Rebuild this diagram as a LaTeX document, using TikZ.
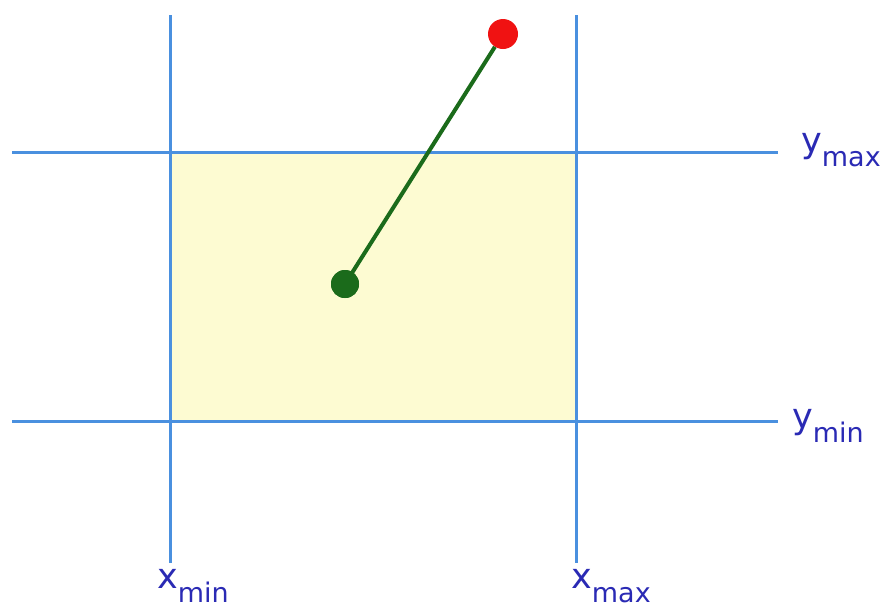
\documentclass[tikz,border=0pt]{standalone}
\usepackage{fontspec}
\setmainfont{DejaVu Sans}
\definecolor{gridblue}{HTML}{4A90DF}
\definecolor{fillyellow}{HTML}{FDFBD2}
\definecolor{dkgreen}{HTML}{1B6B1B}
\definecolor{ptred}{HTML}{F01212}
\definecolor{lblblue}{HTML}{2A2AB4}
\newcommand{\biglbl}[2]{{\fontsize{35}{35}\selectfont #1}\raisebox{-14pt}{\fontsize{27}{27}\selectfont #2}}
\begin{document}
\begin{tikzpicture}[x=1pt,y=-1pt,
  gridline/.style={draw=gridblue,line width=3pt},
  dot/.style={circle,inner sep=0pt,minimum size=#1},
  lbl/.style={anchor=base west,inner sep=0pt,text=lblblue}]
\useasboundingbox (0,0) rectangle (885,611);
\fill[fillyellow] (170,152) rectangle (576,421);
\coordinate (v1t) at (170,15); \coordinate (v1b) at (170,563);
\coordinate (v2t) at (576,15); \coordinate (v2b) at (576,563);
\coordinate (h1l) at (12,152); \coordinate (h1r) at (778,152);
\coordinate (h2l) at (12,421); \coordinate (h2r) at (778,421);
\draw[gridline] (v1t) -- (v1b);
\draw[gridline] (v2t) -- (v2b);
\draw[gridline] (h1l) -- (h1r);
\draw[gridline] (h2l) -- (h2r);
\node[dot=28pt,fill=dkgreen] (p0) at (345,284) {};
\node[dot=30pt,fill=ptred] (p1) at (503,34) {};
\draw[dkgreen,line width=4pt] (p0.center) -- (p1);
\node[dot=28pt,fill=dkgreen] at (p0) {};
\node[lbl] (ymax) at (801,152) {\biglbl{y}{max}};
\node[lbl] (ymin) at (792,428) {\biglbl{y}{min}};
\node[lbl] (xmin) at (157,588) {\biglbl{x}{min}};
\node[lbl] (xmax) at (571,588) {\biglbl{x}{max}};
\end{tikzpicture}
\end{document}
